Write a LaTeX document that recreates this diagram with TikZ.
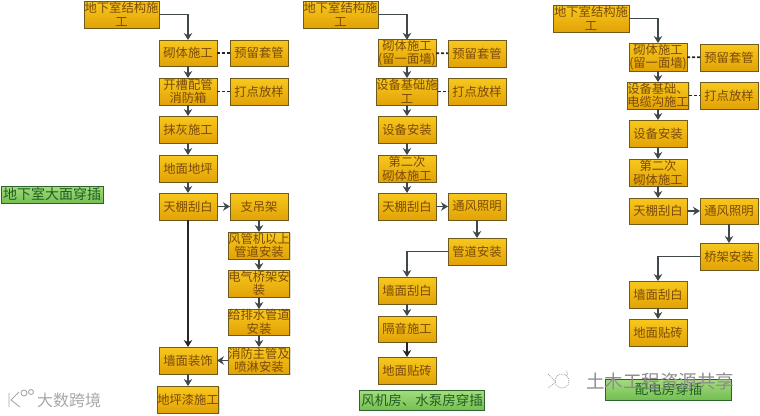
\documentclass[tikz,border=0pt]{standalone}
\usepackage{fontspec}
\setmainfont{Noto Sans CJK SC}
\usetikzlibrary{arrows.meta,shadows}
\definecolor{boxtop}{HTML}{F8C81E}
\definecolor{boxbot}{HTML}{E2A206}
\definecolor{boxline}{HTML}{6E5A1C}
\definecolor{boxtext}{HTML}{7A4A08}
\definecolor{arrowc}{HTML}{40484C}
\definecolor{greentop}{HTML}{A4DC7C}
\definecolor{greenbot}{HTML}{74BE52}
\definecolor{greenline}{HTML}{2C642C}
\definecolor{greentext}{HTML}{1F5E22}
\definecolor{markc}{HTML}{A8A8A8}
\tikzset{
  boxnode/.style={rectangle,draw=boxline,line width=0.9pt,top color=boxtop,bottom color=boxbot,
    inner sep=0pt,outer sep=0pt,align=center,text=boxtext,
    font=\fontsize{12.3}{13.6}\selectfont,
    drop shadow={shadow xshift=1pt,shadow yshift=-1pt,fill=black!40,opacity=.35}},
  greennode/.style={rectangle,draw=greenline,line width=1pt,top color=greentop,bottom color=greenbot,
    inner sep=0pt,outer sep=0pt,align=center,text=greentext},
  flow/.style={draw=arrowc,line width=1.1pt,-{Stealth[length=7pt,width=8.5pt]}},
  flowdark/.style={draw=black!85,line width=1.2pt,-{Stealth[length=7pt,width=8.5pt]}},
  dotlink/.style={draw=black!85,line width=1.6pt,dash pattern=on 3pt off 2pt},
  markpath/.style={draw=markc,line width=0.9pt},
}
\newcommand{\bx}[6]{\node[boxnode,minimum width=#4pt,minimum height=#5pt] (#1) at ({#2+#4/2},{#3+#5/2}) {#6};}
\begin{document}
\begin{tikzpicture}[x=1pt,y=-1pt]
\useasboundingbox (0,0) rectangle (760,415);
% column 1
\bx{a0}{84}{1}{75}{27}{地下室结构施\\工}
\bx{a1}{159}{40}{58}{26}{砌体施工}
\bx{a1r}{230}{40}{58}{26}{预留套管}
\bx{a2}{159}{78}{58}{27}{开槽配管\\消防箱}
\bx{a2r}{230}{78}{58}{27}{打点放样}
\bx{a3}{159}{116}{58}{27}{抹灰施工}
\bx{a4}{159}{155}{58}{27}{地面地坪}
\bx{a5}{159}{193}{58}{27}{天棚刮白}
\bx{a5r}{230}{193}{58}{27}{支吊架}
\bx{a6}{230}{232}{58}{27}{风管机以上\\管道安装}
\bx{a7}{230}{270}{58}{27}{电气桥架安\\装}
\bx{a8}{230}{309}{58}{26}{给排水管道\\安装}
\bx{a9}{230}{347}{58}{27}{消防主管及\\喷淋安装}
\bx{a10}{159}{347}{58}{27}{墙面装饰}
\bx{a11}{159}{386}{58}{27}{地坪漆施工}
\node[greennode,minimum width=102pt,minimum height=17pt,font=\fontsize{14}{15}\selectfont] (lab1) at (52,194.5) {地下室大面穿插};
\draw[flow] (a0.east) -| (a1.north);
\draw[flow] (a1) -- (a2);
\draw[flow] (a2) -- (a3);
\draw[flow] (a3) -- (a4);
\draw[flow] (a4) -- (a5);
\draw[dotlink] (a1) -- (a1r);
\draw[dotlink] (a2) -- (a2r);
\draw[flow] (a5) -- (a5r);
\draw[flow] (a5r) -- (a6);
\draw[flow] (a6) -- (a7);
\draw[flow] (a7) -- (a8);
\draw[flow] (a8) -- (a9);
\draw[flow] (a9) -- (a10);
\draw[flowdark] (a5) -- (a10);
\draw[flow] (a10) -- (a11);
% column 2
\bx{b0}{303}{1}{75}{27}{地下室结构施\\工}
\bx{b1}{378}{40}{58}{26}{砌体施工\\(留一面墙)}
\bx{b1r}{448}{40}{58}{27}{预留套管}
\bx{b2}{378}{78}{58}{27}{设备基础施\\工}
\bx{b2r}{448}{78}{58}{27}{打点放样}
\bx{b3}{378}{116}{58}{27}{设备安装}
\bx{b4}{378}{155}{58}{27}{第二次\\砌体施工}
\bx{b5}{378}{193}{58}{27}{天棚刮白}
\bx{b5r}{448}{193}{58}{27}{通风照明}
\bx{b6}{448}{238}{58}{27}{管道安装}
\bx{b7}{378}{277}{58}{27}{墙面刮白}
\bx{b8}{378}{316}{58}{26}{隔音施工}
\bx{b9}{378}{357}{58}{27}{地面贴砖}
\node[greennode,minimum width=125pt,minimum height=20pt,font=\fontsize{13.5}{15}\selectfont] (lab2) at (422,400.5) {风机房、水泵房穿插};
\draw[flow] (b0.east) -| (b1.north);
\draw[flow] (b1) -- (b2);
\draw[flow] (b2) -- (b3);
\draw[flow] (b3) -- (b4);
\draw[flow] (b4) -- (b5);
\draw[dotlink] (b1) -- (b1r);
\draw[dotlink] (b2) -- (b2r);
\draw[flow] (b5) -- (b5r);
\draw[flow] (b5r) -- (b6);
\draw[flow] (b6.west) -| (b7.north);
\draw[flow] (b7) -- (b8);
\draw[flowdark] (b8) -- (b9);
% column 3
\bx{c0}{553}{5}{76}{27}{地下室结构施\\工}
\bx{c1}{629}{43}{58}{28}{砌体施工\\(留一面墙)}
\bx{c1r}{700}{44}{58}{27}{预留套管}
\bx{c2}{629}{82}{58}{27}{设备基础、\\电缆沟施工}
\bx{c2r}{700}{82}{58}{27}{打点放样}
\bx{c3}{629}{120}{58}{27}{设备安装}
\bx{c4}{629}{159}{58}{27}{第二次\\砌体施工}
\bx{c5}{629}{198}{58}{26}{天棚刮白}
\bx{c5r}{700}{198}{58}{26}{通风照明}
\bx{c6}{700}{243}{58}{27}{桥架安装}
\bx{c7}{629}{281}{58}{27}{墙面刮白}
\bx{c8}{629}{319}{58}{27}{地面贴砖}
\node[greennode,minimum width=126pt,minimum height=21pt,font=\fontsize{13.5}{15}\selectfont] (lab3) at (668.5,389.5) {配电房穿插};
\draw[flow] (c0.east) -| (c1.north);
\draw[flow] (c1) -- (c2);
\draw[flow] (c2) -- (c3);
\draw[flow] (c3) -- (c4);
\draw[flow] (c4) -- (c5);
\draw[dotlink] (c1) -- (c1r);
\draw[dotlink] (c2) -- (c2r);
\draw[flow] (c5) -- (c5r);
\draw[flow] (c5r) -- (c6);
\draw[flow] (c6.west) -| (c7.north);
\draw[flow] (c7) -- (c8);
% watermarks
\node[inner sep=0pt,text=markc,font=\fontsize{16}{17}\selectfont] (wm1) at (69,400.5) {大数跨境};
\draw[markpath] (9,393) -- (9,407) (19,392) -- (11,400) -- (20,407);
\draw[markpath] (24,393) circle (3pt) (31,392) circle (2.5pt);
\node[inner sep=0pt,text=black!45,font=\fontsize{18.5}{20}\selectfont] (wm2) at (660,381) {土木工程资源共享};
\draw[markpath,densely dotted] (562,381) circle (7pt);
\draw[markpath,densely dotted] (548,374) -- (556,382) -- (548,388);
\draw[markpath,densely dotted] (566,376) arc (-60:60:3pt);
\end{tikzpicture}
\end{document}
